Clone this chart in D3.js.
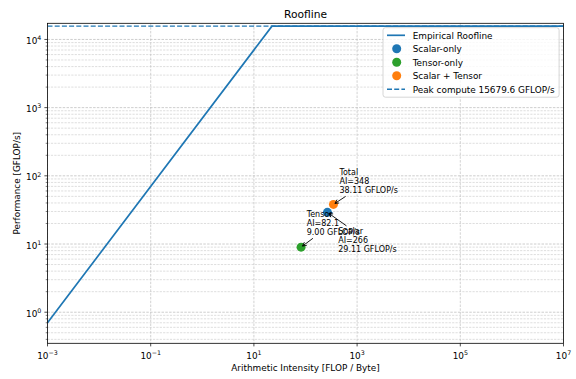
<!DOCTYPE html>
<html><head><meta charset="utf-8">
<script src="https://cdn.jsdelivr.net/npm/d3@7"></script>
<style>
body{margin:0;background:#fff}
svg{display:block}
text{font-family:"DejaVu Sans",sans-serif;fill:#000}
</style>
</head><body>
<svg id="chart" width="576" height="379"></svg>
<script>
// Machine ceilings
const peakCompute = 15679.6;   // GFLOP/s
const memBandwidth = 700;      // GB/s
const aiDomain = [1e-3, 1e7];
const perfDomain = [0.35, 17247.6];

// Tick exponents
const xTickExponents = [-3, -1, 1, 3, 5, 7];
const yTickExponents = [0, 1, 2, 3, 4];

// Measured kernels
const kernelNames = ["Scalar-only", "Tensor-only", "Scalar + Tensor"];
const kernelShort = ["Scalar", "Tensor", "Total"];
const kernelAI = [266, 82.1, 348];
const kernelPerf = [29.11, 9.00, 38.11];

// Styling
const kernelColors = ["#1f77b4", "#2ca02c", "#ff7f0e"];
const roofColor = "#1f77b4";
const labelOffsets = { Scalar: [10.8, 21.5], Tensor: [5.6, -30.5], Total: [6, -29.6] };
const annFont = 8, annLine = 9.3;

const W = 576, H = 379;
const margin = { left: 47.5, right: 12.5, top: 23.3, bottom: 35.7 };
const svg = d3.select("#chart");

const x = d3.scaleLog().domain(aiDomain).range([margin.left, W - margin.right]);
const y = d3.scaleLog().domain(perfDomain).range([H - margin.bottom, margin.top]);
const [x0, x1] = x.range();
const [y0, y1] = y.range();

svg.append("defs").append("clipPath").attr("id", "plot")
  .append("rect").attr("x", x0).attr("y", y1).attr("width", x1 - x0).attr("height", y0 - y1);

// minor y ticks (2..9 per decade)
const yMinor = [];
for (let e = -1; e <= 4; e++) for (let m = 2; m <= 9; m++) {
  const v = m * Math.pow(10, e);
  if (v >= perfDomain[0] && v <= perfDomain[1]) yMinor.push(v);
}
const yMajor = yTickExponents.map(e => Math.pow(10, e));
const xMajor = xTickExponents.map(e => Math.pow(10, e));

// grid
const grid = svg.append("g").attr("clip-path", "url(#plot)");
grid.selectAll(".hm").data(yMinor).join("line")
  .attr("x1", x0).attr("x2", x1).attr("y1", d => y(d)).attr("y2", d => y(d))
  .attr("stroke", "#c8c8c8").attr("stroke-width", 0.6).attr("stroke-dasharray", "2.2,1.2");
grid.selectAll(".hM").data(yMajor).join("line")
  .attr("x1", x0).attr("x2", x1).attr("y1", d => y(d)).attr("y2", d => y(d))
  .attr("stroke", "#b8b8b8").attr("stroke-width", 0.7).attr("stroke-dasharray", "2.5,1.3");
grid.selectAll(".vM").data(xMajor).join("line")
  .attr("y1", y1).attr("y2", y0).attr("x1", d => x(d)).attr("x2", d => x(d))
  .attr("stroke", "#c0c0c0").attr("stroke-width", 0.7).attr("stroke-dasharray", "2.5,1.3");

// roofline
const ridge = peakCompute / memBandwidth;
const roofPts = [aiDomain[0], ridge, aiDomain[1]].map(a => [a, Math.min(peakCompute, a * memBandwidth)]);
const plot = svg.append("g").attr("clip-path", "url(#plot)");
plot.append("line")
  .attr("x1", x0).attr("x2", x1).attr("y1", y(peakCompute)).attr("y2", y(peakCompute))
  .attr("stroke", roofColor).attr("stroke-width", 1.4).attr("stroke-dasharray", "5,2.2");
plot.append("path").datum(roofPts)
  .attr("d", d3.line().x(d => x(d[0])).y(d => y(d[1])))
  .attr("fill", "none").attr("stroke", roofColor).attr("stroke-width", 1.7);

// kernels
plot.selectAll(".pt").data(kernelAI).join("circle")
  .attr("cx", d => x(d)).attr("cy", (d, i) => y(kernelPerf[i])).attr("r", 4.5)
  .attr("fill", (d, i) => kernelColors[i]);

// annotations with arrows from the label box to the point
const fmtAI = d3.format(".3~g"), fmtPerf = d3.format(".2f");
const ann = svg.append("g");
kernelAI.forEach((ai, i) => {
  const px = x(ai), py = y(kernelPerf[i]);
  const off = labelOffsets[kernelShort[i]];
  const lines = [kernelShort[i], "AI=" + fmtAI(ai), fmtPerf(kernelPerf[i]) + " GFLOP/s"];
  const t = ann.append("text").attr("x", px + off[0]).attr("y", py + off[1]).attr("font-size", annFont);
  lines.forEach((s, k) => t.append("tspan").attr("x", px + off[0]).attr("dy", k ? annLine : 0).text(s));
  const bb = t.node().getBBox();
  const cx = bb.x + bb.width / 2, cy = bb.y + bb.height / 2;
  const dx = px - cx, dy = py - cy;
  const tx = dx !== 0 ? (bb.width / 2) / Math.abs(dx) : Infinity;
  const ty = dy !== 0 ? (bb.height / 2) / Math.abs(dy) : Infinity;
  const s = Math.min(tx, ty);
  const len = Math.hypot(dx, dy);
  const ux = dx / len, uy = dy / len;
  const sx = cx + dx * s + ux * 1.8, sy = cy + dy * s + uy * 1.8;
  const ex = px - ux * 1.8, ey = py - uy * 1.8;
  ann.append("line").attr("x1", sx).attr("y1", sy).attr("x2", ex).attr("y2", ey)
    .attr("stroke", "#000").attr("stroke-width", 0.9);
  const hl = 3.8, hw = 2;
  const bx = ex - ux * hl, by = ey - uy * hl;
  ann.append("path")
    .attr("d", `M${bx - uy * hw},${by + ux * hw}L${ex},${ey}L${bx + uy * hw},${by - ux * hw}`)
    .attr("fill", "none").attr("stroke", "#000").attr("stroke-width", 0.9);
});

// frame
svg.append("rect").attr("x", x0).attr("y", y1).attr("width", x1 - x0).attr("height", y0 - y1)
  .attr("fill", "none").attr("stroke", "#000").attr("stroke-width", 0.8);

// ticks
const tickG = svg.append("g").attr("stroke", "#000").attr("stroke-width", 0.7);
tickG.selectAll(".xt").data(xMajor).join("line")
  .attr("x1", d => x(d)).attr("x2", d => x(d)).attr("y1", y0).attr("y2", y0 + 3.1);
tickG.selectAll(".yt").data(yMajor).join("line")
  .attr("y1", d => y(d)).attr("y2", d => y(d)).attr("x1", x0).attr("x2", x0 - 3.1);
tickG.selectAll(".ym").data(yMinor).join("line")
  .attr("y1", d => y(d)).attr("y2", d => y(d)).attr("x1", x0).attr("x2", x0 - 1.8)
  .attr("stroke-width", 0.5);

function powLabel(sel, e) {
  sel.append("tspan").text("10");
  sel.append("tspan").attr("font-size", 6.3).attr("dy", -3.9).text(String(e).replace("-", "\u2212"));
}
xTickExponents.forEach(e => {
  const t = svg.append("text").attr("x", x(Math.pow(10, e))).attr("y", y0 + 15.3)
    .attr("font-size", 8.9).attr("text-anchor", "middle");
  powLabel(t, e);
});
yTickExponents.forEach(e => {
  const t = svg.append("text").attr("x", x0 - 6.2).attr("y", y(Math.pow(10, e)) + 4.6)
    .attr("font-size", 8.9).attr("text-anchor", "end");
  powLabel(t, e);
});

// axis labels and title
svg.append("text").attr("x", (x0 + x1) / 2).attr("y", 371).attr("text-anchor", "middle")
  .attr("font-size", 8.9).text("Arithmetic Intensity [FLOP / Byte]");
svg.append("text").attr("transform", `translate(20,${(y0 + y1) / 2}) rotate(-90)`)
  .attr("text-anchor", "middle").attr("font-size", 8.9).text("Performance [GFLOP/s]");
svg.append("text").attr("x", (x0 + x1) / 2).attr("y", 18).attr("text-anchor", "middle")
  .attr("font-size", 10.7).text("Roofline");

// legend
const legendItems = [
  { label: "Empirical Roofline", kind: "line" },
  ...kernelNames.map((n, i) => ({ label: n, kind: "dot", color: kernelColors[i] })),
  { label: `Peak compute ${peakCompute.toFixed(1)} GFLOP/s`, kind: "dash" }
];
const lg = svg.append("g");
const lgX = 383, lgY = 27.7, lgW = x1 - 4.4 - 383, rowH = 13.5, row0 = lgY + 7.6;
lg.append("rect").attr("x", lgX).attr("y", lgY).attr("width", lgW)
  .attr("height", rowH * (legendItems.length - 1) + 15.5).attr("rx", 2.5)
  .attr("fill", "#fff").attr("fill-opacity", 0.8).attr("stroke", "#cccccc").attr("stroke-width", 0.8);
legendItems.forEach((it, i) => {
  const cy = row0 + i * rowH;
  if (it.kind === "dot") {
    lg.append("circle").attr("cx", lgX + 13.7).attr("cy", cy).attr("r", 4.5).attr("fill", it.color);
  } else {
    lg.append("line").attr("x1", lgX + 4).attr("x2", lgX + 22).attr("y1", cy).attr("y2", cy)
      .attr("stroke", roofColor).attr("stroke-width", it.kind === "line" ? 1.7 : 1.4)
      .attr("stroke-dasharray", it.kind === "dash" ? "5,2.2" : null);
  }
  lg.append("text").attr("x", lgX + 29.7).attr("y", cy + 3.2).attr("font-size", 8.9).text(it.label);
});
</script>
</body></html>
